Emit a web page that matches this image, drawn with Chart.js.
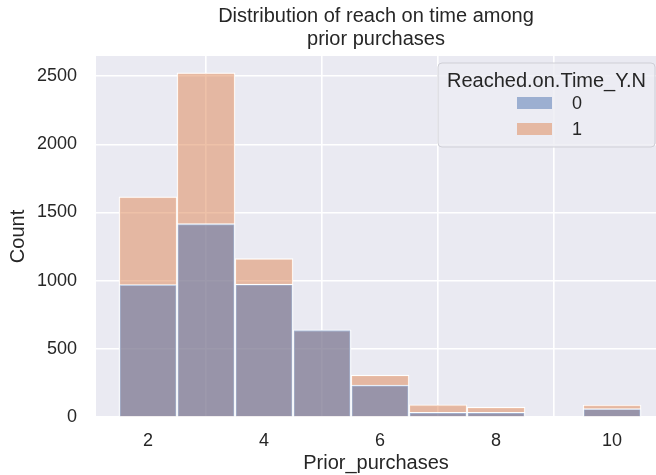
<!DOCTYPE html>
<html>
<head>
<meta charset="utf-8">
<title>Prior purchases</title>
<script src="https://cdn.jsdelivr.net/npm/chart.js"></script>
<style>
  body { margin: 0; background: #fff; }
</style>
</head>
<body>
<canvas id="histChart" width="656" height="475"></canvas>
<script>
// one bin per value of Prior_purchases
var bins = [2, 3, 4, 5, 6, 7, 8, 9, 10];
// counts per bin, hue Reached.on.Time_Y.N (layered, not stacked)
var count_0 = [972, 1418, 975, 640, 235, 35, 35, 0, 62];
var count_1 = [1615, 2525, 1162, 636, 308, 90, 72, 0, 88];
var x_ticks = [2, 4, 6, 8, 10];
var y_ticks = [0, 500, 1000, 1500, 2000, 2500];
var legend_title = "Reached.on.Time_Y.N";
var legend_labels = ["0", "1"];
var chart_title = ["Distribution of reach on time among", "prior purchases"];

var blue = "rgba(76, 114, 176, 0.5)";
var orange = "rgba(221, 132, 82, 0.5)";
var textColor = "#262626";
var fontName = "'Liberation Sans', Arial, sans-serif";

function points(values){
  var out = [];
  for (var i = 0; i < bins.length; i++){
    out.push({x: bins[i], y: values[i]});
  }
  return out;
}

// grey plot background like seaborn darkgrid
var plotBg = {
  id: "plotBg",
  beforeDraw: function(chart){
    var a = chart.chartArea, ctx = chart.ctx;
    ctx.save();
    ctx.fillStyle = "#EAEAF2";
    ctx.fillRect(a.left, a.top, a.right - a.left, a.bottom - a.top);
    ctx.restore();
  }
};

// title over the axes and the legend box in the top right
var titleLegend = {
  id: "titleLegend",
  afterDraw: function(chart){
    var a = chart.chartArea, ctx = chart.ctx;
    var cx = (a.left + a.right) / 2;
    ctx.save();
    ctx.fillStyle = textColor;
    ctx.font = "20px " + fontName;
    ctx.textAlign = "center";
    ctx.textBaseline = "alphabetic";
    ctx.fillText(chart_title[0], cx, 22);
    ctx.fillText(chart_title[1], cx, 45);

    // legend
    var bx = 438, by = 63, bw = 217, bh = 84;
    ctx.beginPath();
    ctx.roundRect(bx, by, bw, bh, 4);
    ctx.fillStyle = "rgba(236, 236, 243, 0.8)";
    ctx.fill();
    ctx.strokeStyle = "#cfcfd6";
    ctx.lineWidth = 1;
    ctx.stroke();

    ctx.fillStyle = textColor;
    ctx.font = "20px " + fontName;
    ctx.textAlign = "center";
    ctx.textBaseline = "middle";
    ctx.fillText(legend_title, bx + bw / 2, 81);

    var colors = [blue, orange];
    ctx.font = "18px " + fontName;
    ctx.textAlign = "left";
    for (var i = 0; i < legend_labels.length; i++){
      var yy = 103 + i * 26;
      ctx.fillStyle = colors[i];
      ctx.fillRect(517, yy - 6, 35, 12);
      ctx.fillStyle = textColor;
      ctx.fillText(legend_labels[i], 572, yy + 1);
    }
    ctx.restore();
  }
};

var data = {
  datasets: [
    {
      label: legend_labels[0],
      data: points(count_0),
      backgroundColor: blue,
      borderColor: "#ffffff",
      borderWidth: 1.2
    },
    {
      label: legend_labels[1],
      data: points(count_1),
      backgroundColor: orange,
      borderColor: "#ffffff",
      borderWidth: 1.2
    }
  ]
};

var config = {
  type: "bar",
  data: data,
  options: {
    responsive: false,
    devicePixelRatio: 1,
    animation: false,
    events: [],
    layout: { padding: { top: 56, left: 0, right: 0, bottom: 0 } },
    datasets: {
      bar: { grouped: false, barPercentage: 1, categoryPercentage: 1 }
    },
    plugins: {
      legend: { display: false },
      title: { display: false },
      tooltip: { enabled: false }
    },
    scales: {
      x: {
        type: "linear",
        min: 1.103,
        max: 10.758,
        offset: false,
        grid: { color: "#ffffff", lineWidth: 1.6, drawTicks: false },
        border: { display: false },
        ticks: {
          color: textColor,
          font: { family: fontName, size: 18 },
          padding: 13,
          autoSkip: false,
          maxRotation: 0,
          callback: function(v){ return String(v); }
        },
        afterBuildTicks: function(s){
          s.ticks = x_ticks.map(function(v){ return {value: v}; });
        },
        afterFit: function(s){ s.height = 58; },
        title: {
          display: true,
          text: "Prior_purchases",
          color: textColor,
          font: { family: fontName, size: 20 },
          padding: { top: 0, bottom: 0 }
        }
      },
      y: {
        min: 0,
        max: 2648,
        grid: { color: "#ffffff", lineWidth: 1.6, drawTicks: false },
        border: { display: false },
        ticks: {
          color: textColor,
          font: { family: fontName, size: 18 },
          padding: 19,
          callback: function(v){ return String(v); }
        },
        afterBuildTicks: function(s){
          s.ticks = y_ticks.map(function(v){ return {value: v}; });
        },
        afterFit: function(s){ s.width = 96; },
        title: {
          display: true,
          text: "Count",
          color: textColor,
          font: { family: fontName, size: 20 },
          padding: { top: 6, bottom: 0 }
        }
      }
    }
  },
  plugins: [plotBg, titleLegend]
};

var histChart = new Chart(document.getElementById("histChart"), config);
</script>
</body>
</html>
